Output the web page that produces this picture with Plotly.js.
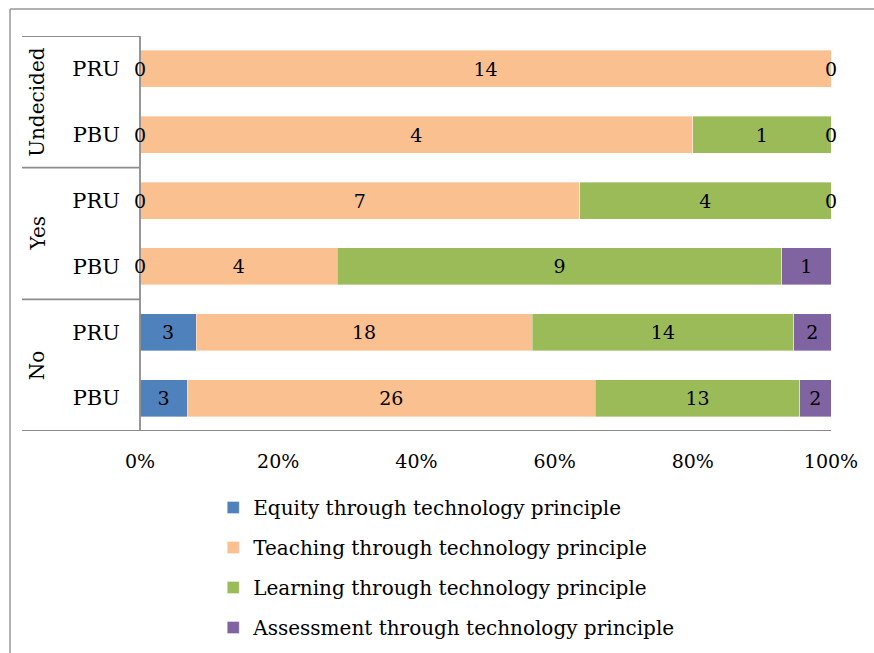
<!DOCTYPE html>
<html>
<head>
<meta charset="utf-8">
<script src="https://cdn.plot.ly/plotly-3.0.1.min.js"></script>
<style>html,body{margin:0;padding:0;background:#fff;}#chart{width:874px;height:653px;}</style>
</head>
<body>
<div id="chart"></div>
<script>
// Data (bottom to top)
const groups = ['No', 'No', 'Yes', 'Yes', 'Undecided', 'Undecided'];
const subs = ['PBU', 'PRU', 'PBU', 'PRU', 'PBU', 'PRU'];
const seriesNames = ['Equity through technology principle', 'Teaching through technology principle', 'Learning through technology principle', 'Assessment through technology principle'];
const equity = [3, 3, 0, 0, 0, 0];
const teaching = [26, 18, 4, 7, 4, 14];
const learning = [13, 14, 9, 4, 1, 0];
const assessment = [2, 2, 1, 0, 0, 0];
const xTickVals = [0, 20, 40, 60, 80, 100];
const xTickText = ['0%', '20%', '40%', '60%', '80%', '100%'];

const colors = ['#4F81BD', '#FAC090', '#9BBB59', '#8064A2'];
const FONT = 'DejaVu Serif, Liberation Serif, serif';
const series = [equity, teaching, learning, assessment];
const cats = groups.map((g, i) => g + ' ' + subs[i]);

const traces = series.map((vals, k) => ({
  type: 'bar',
  orientation: 'h',
  name: seriesNames[k],
  legendgroup: 'g' + k,
  y: cats,
  x: vals,
  text: vals.map(v => v === 0 ? '' : String(v)),
  textposition: 'inside',
  insidetextanchor: 'middle',
  constraintext: 'none',
  insidetextfont: {family: FONT, size: 19, color: '#000'},
  marker: {color: colors[k], line: {color: 'rgba(255,255,255,0.6)', width: 0.6}},
  hoverinfo: 'x+y+name'
}));

// zero-value labels at their stacked positions (percent of row total)
const annotations = [];
cats.forEach((c, i) => {
  const total = series.reduce((s, arr) => s + arr[i], 0);
  let cum = 0;
  const used = new Set();
  series.forEach((arr) => {
    const v = arr[i];
    const pos = cum / total * 100;
    if (v === 0 && !used.has(pos.toFixed(3))) {
      used.add(pos.toFixed(3));
      annotations.push({x: pos, y: c, xref: 'x', yref: 'y', text: '0', showarrow: false,
        font: {family: FONT, size: 19, color: '#000'}, xanchor: 'center', yanchor: 'middle'});
    }
    cum += v;
  });
});

// group labels
const groupNames = [...new Set(groups)];
groupNames.forEach(g => {
  const idx = groups.map((x, i) => x === g ? i : -1).filter(i => i >= 0);
  const mid = (idx[0] + idx[idx.length - 1]) / 2;
  annotations.push({x: -0.149, y: mid, xref: 'paper', yref: 'y', text: g, showarrow: false, textangle: -90,
    font: {family: FONT, size: 20, color: '#000'}, xanchor: 'center', yanchor: 'middle'});
});

const lineCol = '#8c8c8c';
const shapes = [];
// group separators
const xl = -0.1708;
[-0.5, 1.5, 3.5, 5.5].forEach(yv => {
  shapes.push({type: 'line', xref: 'paper', yref: 'y', x0: xl, x1: yv === -0.5 ? 1 : 0, y0: yv, y1: yv,
    line: {color: lineCol, width: 1.8}});
});
shapes.push({type: 'line', xref: 'paper', yref: 'y', x0: 0, x1: 0, y0: -0.5, y1: 5.5, line: {color: lineCol, width: 1.8}});
// outer border
shapes.push({type: 'line', xref: 'paper', yref: 'paper', x0: -0.1881, x1: -0.1881, y0: 1.0684, y1: -0.6, line: {color: '#999', width: 1.5}});
shapes.push({type: 'line', xref: 'paper', yref: 'paper', x0: -0.1881, x1: 1.1, y0: 1.0684, y1: 1.0684, line: {color: '#999', width: 1.5}});

const layout = {
  width: 874, height: 653,
  margin: {l: 140, r: 43, t: 36, b: 222},
  paper_bgcolor: '#fff', plot_bgcolor: '#fff',
  barmode: 'stack', barnorm: 'percent', bargap: 0.44,
  font: {family: FONT, size: 19, color: '#000'},
  showlegend: true,
  legend: {x: 0.106, xanchor: 'left', xref: 'paper', y: 0.2527, yref: 'container', yanchor: 'top', orientation: 'v', traceorder: 'grouped',
    tracegroupgap: 11, font: {family: FONT, size: 20, color: '#000'}, bgcolor: 'rgba(0,0,0,0)'},
  xaxis: {range: [0, 100], tickvals: xTickVals, ticktext: xTickText, showgrid: false, zeroline: false,
    showline: false, ticks: '', ticklabelstandoff: 17, tickfont: {family: FONT, size: 19, color: '#000'}, fixedrange: true},
  yaxis: {type: 'category', categoryorder: 'array', categoryarray: cats, tickvals: cats, ticktext: subs,
    range: [-0.5, 5.5], showgrid: false, zeroline: false, showline: false, ticks: '', ticklabelstandoff: 19,
    tickfont: {family: FONT, size: 21, color: '#000'}, fixedrange: true},
  annotations: annotations,
  shapes: shapes
};

Plotly.newPlot('chart', traces, layout, {displayModeBar: false, staticPlot: true});
</script>
</body>
</html>
